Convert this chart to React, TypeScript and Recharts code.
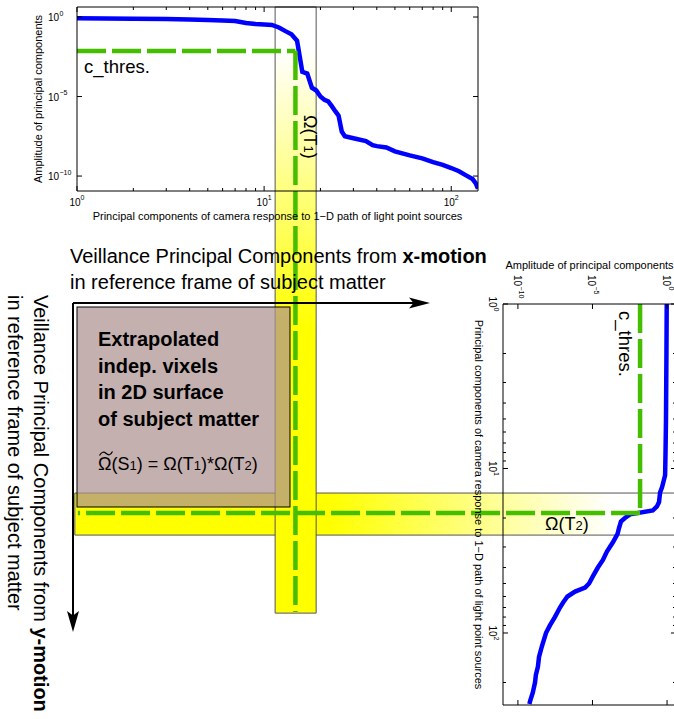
import React from 'react';
import { LineChart, Line, XAxis, YAxis, ReferenceLine, ReferenceArea } from 'recharts';

const FONT = '"Liberation Sans", Arial, Helvetica, sans-serif';
const BLUE = '#0000ff';
const GREEN = '#46be00';

// x-motion: principal component amplitudes (top plot)
const X_MOTION_INDEX = [1, 2, 3, 4, 5, 6, 7, 8, 9, 10, 11, 12, 13, 14, 15, 16, 17, 18, 19, 20, 21, 22, 23, 24, 25, 26, 27, 30, 35, 38, 40, 45, 50, 60, 70, 80, 90, 100, 110, 120, 130, 135, 139];
const X_MOTION_AMP = [8.3e-1, 7.9e-1, 7.4e-1, 6.9e-1, 6.5e-1, 6.0e-1, 5.6e-1, 4.2e-1, 3.6e-1, 3.4e-1, 3.2e-1, 2.2e-1, 1.3e-1, 8.2e-2, 3.2e-2, 3.6e-4, 2.8e-4, 3.6e-5, 2.4e-5, 1.0e-5, 6.3e-6, 5.0e-6, 2.5e-6, 1.2e-6, 6.3e-7, 6.3e-8, 3.2e-8, 2.4e-8, 1.6e-8, 8.7e-9, 7.6e-9, 6.3e-9, 3.6e-9, 2.0e-9, 1.3e-9, 7.6e-10, 5.0e-10, 3.2e-10, 2.0e-10, 1.1e-10, 6.5e-11, 3.6e-11, 1.6e-11];
const X_MOTION_THRESHOLD = 7.2e-3;
const X_MOTION_CUTOFF = 14.7;
const X_MOTION_BAND = [11.45, 18.97];

// y-motion: principal component amplitudes (right plot, drawn turned by 90 degrees)
const Y_MOTION_INDEX = [1, 2, 5, 8, 11, 13, 14, 16, 17, 18, 19, 20, 21, 23, 25, 28, 32, 36, 40, 45, 50, 53, 56, 60, 65, 70, 80, 90, 100, 120, 140, 160, 180, 200, 230, 260, 270];
const Y_MOTION_AMP = [9.5e-1, 9.1e-1, 8.5e-1, 7.9e-1, 7.4e-1, 4.6e-1, 3.4e-1, 2.9e-1, 2.1e-1, 1.1e-1, 3.3e-3, 1.5e-3, 8.1e-4, 6.0e-4, 4.8e-4, 2.4e-4, 9.3e-5, 5.0e-5, 2.3e-5, 1.1e-5, 5.9e-6, 3.2e-6, 6.8e-7, 2.1e-7, 1.1e-7, 6.6e-8, 3.0e-8, 1.4e-8, 7.6e-9, 4.1e-9, 2.6e-9, 2.2e-9, 1.6e-9, 1.4e-9, 1.0e-9, 6.5e-10, 5.9e-10];
const Y_MOTION_THRESHOLD = 1.55e-2;
const Y_MOTION_CUTOFF = 18.65;
const Y_MOTION_BAND = [14.1, 25.4];

const X_MOTION_TICKS = [1, 2, 3, 4, 5, 6, 7, 8, 9, 10, 20, 30, 40, 50, 60, 70, 80, 90, 100];
const Y_MOTION_TICKS = [1, 2, 3, 4, 5, 6, 7, 8, 9, 10, 20, 30, 40, 50, 60, 70, 80, 90, 100, 200];
const AMP_TICKS = [1e-10, 1e-5, 1];
const MAJOR_INDEX = [1, 10, 100];

type PanelSpec = {
  id: string;
  width: number;
  height: number;
  plotLeft: number;
  plotTop: number;
  plotW: number;
  plotH: number;
  index: number[];
  amp: number[];
  indexMax: number;
  ampMin: number;
  ampMax: number;
  indexTicks: number[];
  threshold: number;
  cutoff: number;
  band: number[];
  bandReach: number;
  lineReach: number;
  fade: [number, number];
};

const TOP_SPEC: PanelSpec = {
  id: 'xm',
  width: 674,
  height: 640,
  plotLeft: 77,
  plotTop: 7,
  plotW: 401,
  plotH: 184,
  index: X_MOTION_INDEX,
  amp: X_MOTION_AMP,
  indexMax: 139,
  ampMin: 1.15e-11,
  ampMax: 4.27,
  indexTicks: X_MOTION_TICKS,
  threshold: X_MOTION_THRESHOLD,
  cutoff: X_MOTION_CUTOFF,
  band: X_MOTION_BAND,
  bandReach: 3.3e-38,
  lineReach: 3.9e-38,
  fade: [0.07, 0.53],
};

const SIDE_SPEC: PanelSpec = {
  id: 'ym',
  width: 501,
  height: 640,
  plotLeft: 80,
  plotTop: 10,
  plotW: 401,
  plotH: 173,
  index: Y_MOTION_INDEX,
  amp: Y_MOTION_AMP,
  indexMax: 274,
  ampMin: 1e-11,
  ampMax: 3.98,
  indexTicks: Y_MOTION_TICKS,
  threshold: Y_MOTION_THRESHOLD,
  cutoff: Y_MOTION_CUTOFF,
  band: Y_MOTION_BAND,
  bandReach: 1.95e-40,
  lineReach: 3.1e-40,
  fade: [0.106, 0.576],
};

const expText = (v: number) => {
  const e = Math.round(Math.log10(v));
  return e < 0 ? '\u2212' + -e : String(e);
};

const tickRenderer = (side: 'bottom' | 'top' | 'left' | 'right') => (p: any) => {
  const { x, y, payload } = p;
  const v = payload.value;
  const major = side === 'left' || side === 'right' || MAJOR_INDEX.includes(v);
  const len = major ? 5 : 3;
  let mark;
  if (side === 'bottom') mark = <line x1={x} y1={y} x2={x} y2={y - len} />;
  else if (side === 'top') mark = <line x1={x} y1={y} x2={x} y2={y + len} />;
  else if (side === 'left') mark = <line x1={x} y1={y} x2={x + len} y2={y} />;
  else mark = <line x1={x} y1={y} x2={x - len} y2={y} />;

  return (
    <g>
      <g stroke="#000" strokeWidth={1}>{mark}</g>
      {side === 'bottom' && major && (
        <text x={x} y={y + 14.5} textAnchor="middle" fontFamily={FONT} fontSize={10} fill="#000">
          10<tspan dy={-5.5} fontSize={7}>{expText(v)}</tspan>
        </text>
      )}
      {side === 'left' && (
        <g fontFamily={FONT} fill="#000">
          <text x={x - 18} y={y + 4} textAnchor="end" fontSize={10}>10</text>
          <text x={x - 17.5} y={y - 1.5} fontSize={7}>{expText(v)}</text>
        </g>
      )}
    </g>
  );
};

const thresholdLabel = (p: any) => {
  const vb = p.viewBox || { x: 0, y: 0 };
  return (
    <text x={vb.x + 7} y={vb.y + 21.5} fontFamily={FONT} fontSize={18.5} fill="#000">
      c_thres.
    </text>
  );
};

const AXIS_LINE = { stroke: '#000', strokeWidth: 1 };

function PCAPanel({ spec, layer }: { spec: PanelSpec; layer: 'bands' | 'main' }) {
  const data = spec.index.map((i, k) => ({ idx: i, amp: spec.amp[k] }));
  // every axis takes 1px, so the margins leave room for it
  const margin = {
    top: spec.plotTop - 1,
    left: spec.plotLeft - 1,
    right: spec.width - spec.plotLeft - spec.plotW - 1,
    bottom: spec.height - spec.plotTop - spec.plotH - 1,
  };
  const xDomain = [1, spec.indexMax];
  const yDomain = [spec.ampMin, spec.ampMax];
  const bands = layer === 'bands';
  const gid = spec.id + '-fade';
  const axisLine = bands ? false : AXIS_LINE;
  const tick = (side: 'bottom' | 'top' | 'left' | 'right') => (bands ? false : tickRenderer(side));

  return (
    <div style={{ position: 'relative', width: spec.width, height: spec.height }}>
      <LineChart width={spec.width} height={spec.height} margin={margin} data={data}>
        <defs>
          <linearGradient id={gid} x1="0" y1="0" x2="0" y2="1">
            <stop offset={spec.fade[0]} stopColor="#ffffff" />
            <stop offset={spec.fade[1]} stopColor="#ffff00" />
          </linearGradient>
        </defs>
        <XAxis
          dataKey="idx"
          type="number"
          scale="log"
          domain={xDomain}
          allowDataOverflow
          ticks={spec.indexTicks}
          interval={0}
          height={1}
          tickSize={0}
          tickMargin={0}
          tickLine={false}
          axisLine={axisLine}
          tick={tick('bottom')}
        />
        <YAxis
          type="number"
          scale="log"
          domain={yDomain}
          allowDataOverflow
          ticks={AMP_TICKS}
          interval={0}
          width={1}
          tickSize={0}
          tickMargin={0}
          tickLine={false}
          axisLine={axisLine}
          tick={tick('left')}
        />
        <XAxis
          xAxisId="top"
          orientation="top"
          dataKey="idx"
          type="number"
          scale="log"
          domain={xDomain}
          allowDataOverflow
          ticks={spec.indexTicks}
          interval={0}
          height={1}
          tickSize={0}
          tickMargin={0}
          tickLine={false}
          axisLine={axisLine}
          tick={tick('top')}
        />
        <YAxis
          yAxisId="right"
          orientation="right"
          type="number"
          scale="log"
          domain={yDomain}
          allowDataOverflow
          ticks={AMP_TICKS}
          interval={0}
          width={1}
          tickSize={0}
          tickMargin={0}
          tickLine={false}
          axisLine={axisLine}
          tick={tick('right')}
        />
        {bands && (
          <ReferenceArea
            x1={spec.band[0]}
            x2={spec.band[1]}
            y1={spec.bandReach}
            y2={spec.ampMax}
            ifOverflow="visible"
            fill={`url(#${gid})`}
            fillOpacity={1}
            stroke="#555"
            strokeWidth={1}
          />
        )}
        {!bands && (
          <Line
            dataKey="amp"
            type="linear"
            stroke={BLUE}
            strokeWidth={4.5}
            dot={false}
            activeDot={false}
            isAnimationActive={false}
          />
        )}
        {!bands && (
          <ReferenceLine
            segment={[
              { x: 1, y: spec.threshold },
              { x: spec.cutoff, y: spec.threshold },
            ]}
            ifOverflow="visible"
            stroke={GREEN}
            strokeWidth={4.5}
            strokeDasharray="29 6"
            label={thresholdLabel}
          />
        )}
        {!bands && (
          <ReferenceLine
            segment={[
              { x: spec.cutoff, y: spec.threshold },
              { x: spec.cutoff, y: spec.lineReach },
            ]}
            ifOverflow="visible"
            stroke={GREEN}
            strokeWidth={4.5}
            strokeDasharray="29 6"
          />
        )}
      </LineChart>
      {!bands && (
        <svg
          width={spec.width}
          height={spec.height}
          style={{ position: 'absolute', left: 0, top: 0, pointerEvents: 'none' }}
        >
          <text
            x={spec.plotLeft + spec.plotW / 2}
            y={spec.plotTop + spec.plotH + 28.5}
            textAnchor="middle"
            fontFamily={FONT}
            fontSize={11}
            fill="#000"
          >
            Principal components of camera response to 1{'\u2212'}D path of light point sources
          </text>
          <text
            transform={`translate(${spec.plotLeft - 35.5},${spec.plotTop + spec.plotH / 2}) rotate(-90)`}
            textAnchor="middle"
            fontFamily={FONT}
            fontSize={11}
            fill="#000"
          >
            Amplitude of principal components
          </text>
        </svg>
      )}
    </div>
  );
}

const turned: React.CSSProperties = {
  position: 'absolute',
  left: 686,
  top: 224,
  width: SIDE_SPEC.width,
  height: SIDE_SPEC.height,
  transform: 'rotate(90deg)',
  transformOrigin: '0 0',
};

const flat: React.CSSProperties = { position: 'absolute', left: 0, top: 0 };

export default function App() {
  return (
    <div
      style={{
        position: 'absolute',
        left: 0,
        top: 0,
        width: 674,
        height: 719,
        overflow: 'hidden',
        background: '#fff',
        fontFamily: FONT,
      }}
    >
      <div style={turned}>
        <PCAPanel spec={SIDE_SPEC} layer="bands" />
      </div>
      <div style={flat}>
        <PCAPanel spec={TOP_SPEC} layer="bands" />
      </div>
      <div style={flat}>
        <PCAPanel spec={TOP_SPEC} layer="main" />
      </div>
      <div style={turned}>
        <PCAPanel spec={SIDE_SPEC} layer="main" />
      </div>
      <svg width={674} height={719} style={{ position: 'absolute', left: 0, top: 0, pointerEvents: 'none' }}>
        <rect x={77} y={307} width={213} height={200} fill="rgb(174,146,146)" fillOpacity={0.72} stroke="#000" strokeWidth={1} />

        <g stroke="#000" strokeWidth={2}>
          <line x1={73} y1={303} x2={415} y2={303} />
          <line x1={73} y1={303} x2={73} y2={618} />
        </g>
        <path d="M430,303 L409,297.5 L413.5,303 L409,308.5 Z" fill="#000" />
        <path d="M73,632 L67,611 L73,615.5 L79,611 Z" fill="#000" />

        {/* tilde over the first omega of the formula */}
        <path
          d="M99.5,455.5 C101.5,451.5 104,451.5 106.2,453.5 S110.5,455.5 112.5,451.5"
          fill="none"
          stroke="#000"
          strokeWidth={1.2}
        />

        <g fontFamily={FONT} fill="#000">
          <text x={70} y={262.5} fontSize={20}>
            Veillance Principal Components from <tspan fontWeight="bold">x-motion</tspan>
          </text>
          <text x={70} y={288.5} fontSize={20}>
            in reference frame of subject matter
          </text>

          <text transform="translate(34,295) rotate(90)" fontSize={20}>
            Veillance Principal Components from <tspan fontWeight="bold">y-motion</tspan>
          </text>
          <text transform="translate(8,295) rotate(90)" fontSize={20}>
            in reference frame of subject matter
          </text>

          <g fontSize={20} fontWeight="bold">
            <text x={98} y={346}>Extrapolated</text>
            <text x={98} y={372.5}>indep. vixels</text>
            <text x={98} y={399}>in 2D surface</text>
            <text x={98} y={425.5}>of subject matter</text>
          </g>
          <text x={98} y={470} fontSize={18}>
            {'\u03A9'}(S<tspan fontSize={13}>1</tspan>) = {'\u03A9'}(T<tspan fontSize={13}>1</tspan>)*{'\u03A9'}(T<tspan fontSize={13}>2</tspan>)
          </text>

          <text transform="translate(303.5,115) rotate(90)" fontSize={18}>
            {'\u03A9'}(T<tspan fontSize={13}>1</tspan>)
          </text>
          <text x={545} y={530} fontSize={18}>
            {'\u03A9'}(T<tspan fontSize={13}>2</tspan>)
          </text>
        </g>
      </svg>
    </div>
  );
}
